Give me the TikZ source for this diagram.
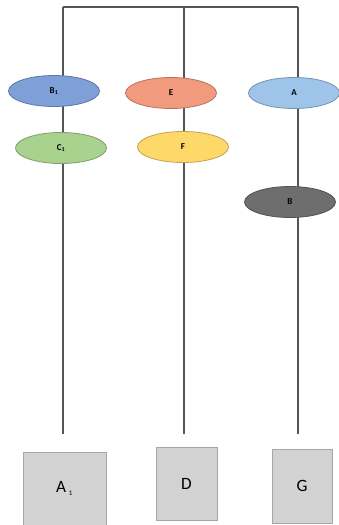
\documentclass[tikz,border=0pt]{standalone}
\usepackage{fontspec}
\setmainfont{Carlito}
\usetikzlibrary{shapes.geometric}
\definecolor{wire}{HTML}{555555}
\definecolor{ovB}{HTML}{7F9FD9}
\definecolor{ovE}{HTML}{F29A7E}
\definecolor{ovA}{HTML}{9EC4EA}
\definecolor{ovC}{HTML}{A9D28F}
\definecolor{ovF}{HTML}{FFD86A}
\definecolor{ovG}{HTML}{6E6E6E}
\definecolor{boxfill}{HTML}{D2D2D2}

\begin{document}
\begin{tikzpicture}[
  x=1pt, y=-1pt,
  every node/.style={inner sep=1pt},
  wire/.style={draw=wire, line width=2.8pt},
  oval/.style={ellipse, draw=#1!75!black, fill=#1, line width=0.8pt,
    minimum width=91pt, minimum height=31pt, font=\bfseries\small},
  leaf/.style={draw=gray!70, fill=boxfill, line width=0.8pt, font=\LARGE}
]
\useasboundingbox (0,0) rectangle (339,525);
% top bar and the three branches
\coordinate (tl) at (63,7);
\coordinate (tm) at (184,7);
\coordinate (tr) at (298,7);
\node[leaf, minimum width=83pt, minimum height=73pt] (a1) at (64.5,488.5) {A\,{\normalsize\raisebox{-0.2ex}{\textsubscript{1}}}};
\node[leaf, minimum width=61pt, minimum height=73pt] (d) at (186.5,483.5) {D};
\node[leaf, minimum width=60pt, minimum height=74pt] (g) at (302,486) {G};
\draw[wire] (tl) -- (tr);
\draw[wire, shorten >=18pt] (tl) -- (tl |- a1.north);
\draw[wire, shorten >=13pt] (tm) -- (tm |- d.north);
\draw[wire, shorten >=15pt] (tr) -- (tr |- g.north);
% genes on the branches
\node[oval=ovB] (b1) at (54,91) {B\textsubscript{1}};
\node[oval=ovC] (c1) at (61,148) {C\textsubscript{1}};
\node[oval=ovE] (e) at (171,93) {E};
\node[oval=ovF] (f) at (183,147) {F};
\node[oval=ovA] (a) at (294,93) {A};
\node[oval=ovG] (b) at (290,202) {B};
\end{tikzpicture}
\end{document}
